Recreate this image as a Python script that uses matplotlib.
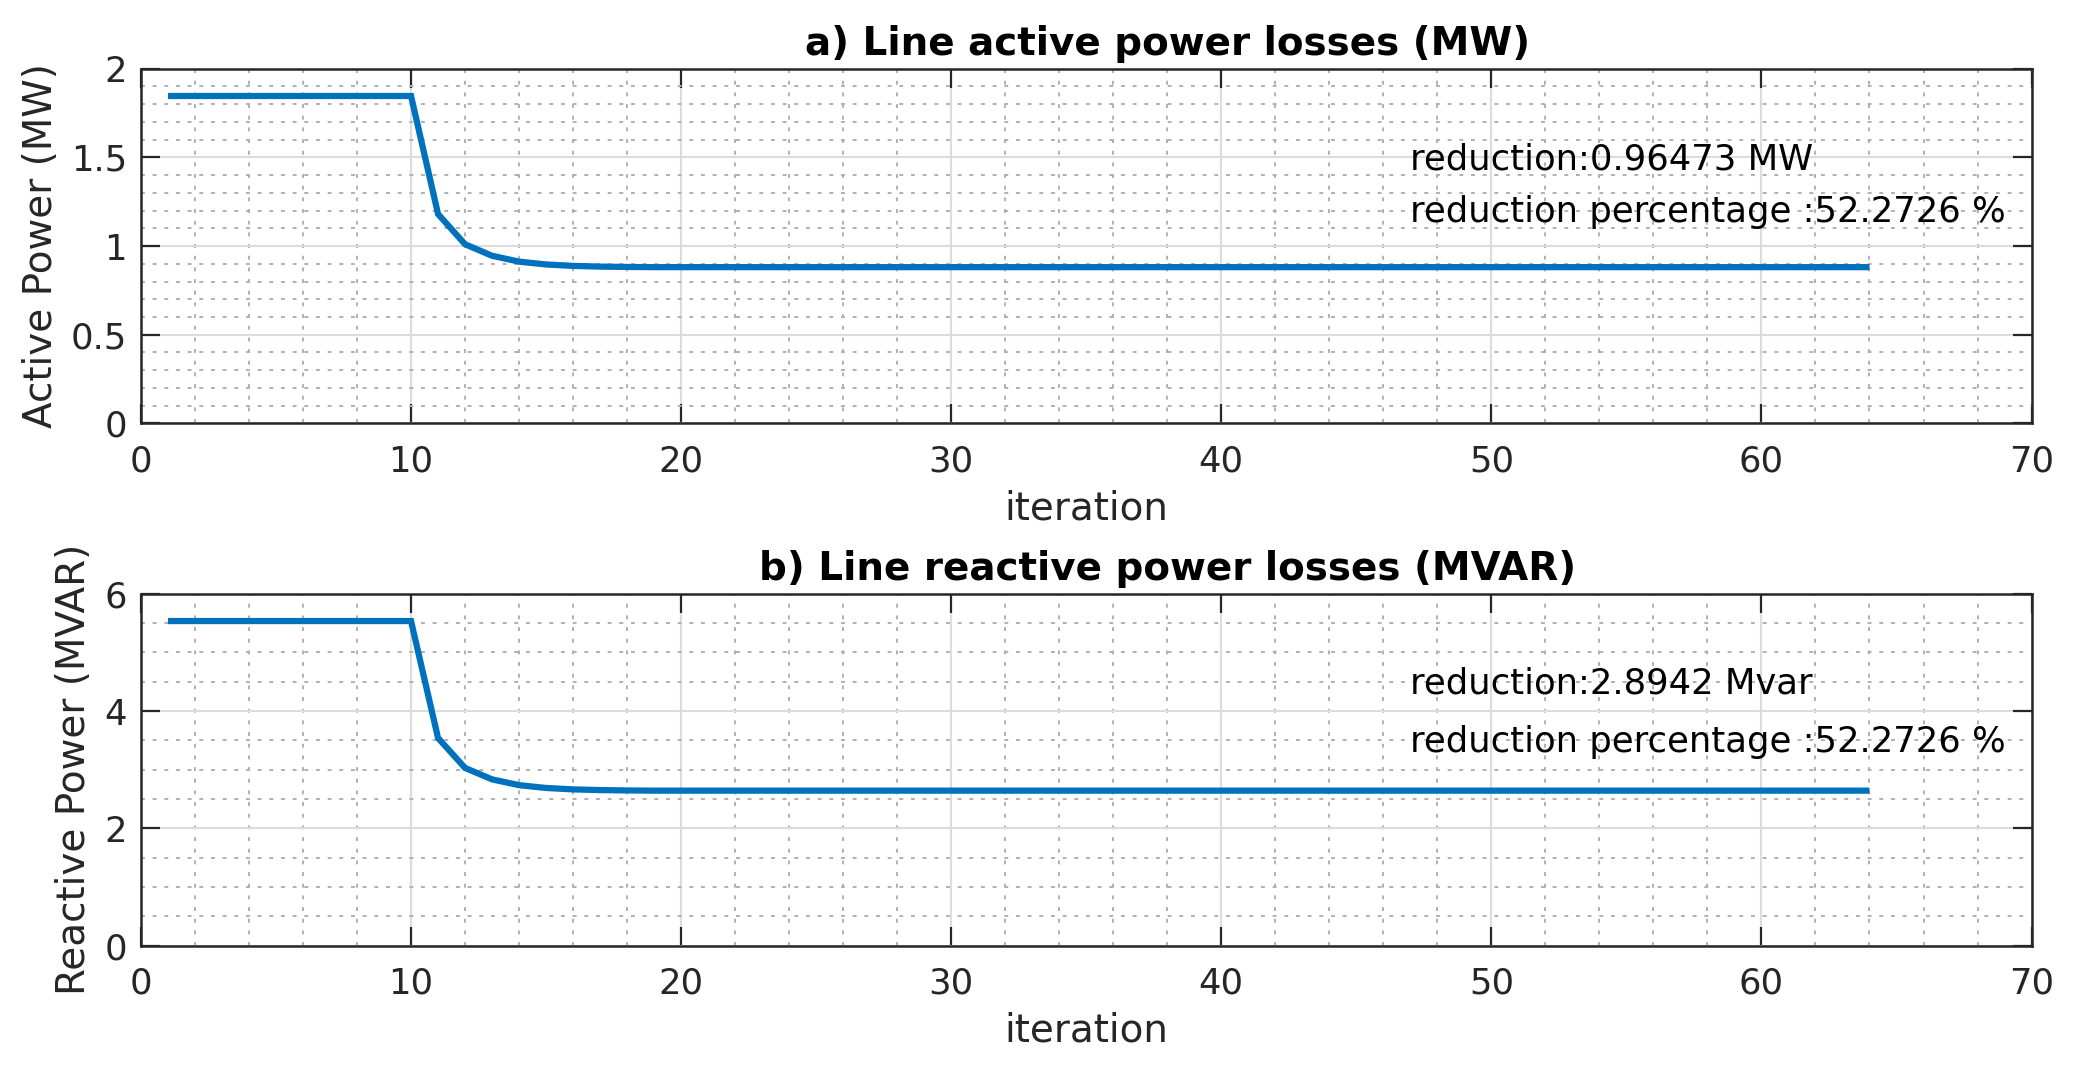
import matplotlib
matplotlib.use("Agg")
import matplotlib.pyplot as plt
from matplotlib.ticker import MultipleLocator, FormatStrFormatter
import numpy as np

plt.rcParams['font.family'] = ['DejaVu Sans']

iterations = list(range(1, 65))
active_loss = [1.8456]*10 + [1.180, 1.010, 0.945, 0.912, 0.896, 0.888, 0.884, 0.882] + [0.8809]*46
reactive_loss = [5.5367]*10 + [3.540, 3.030, 2.835, 2.736, 2.688, 2.664, 2.652, 2.646] + [2.6425]*46

titles = ["a) Line active power losses (MW)", "b) Line reactive power losses (MVAR)"]
ylabels = ["Active Power (MW)", "Reactive Power (MVAR)"]
notes = [["reduction:0.96473 MW", "reduction percentage :52.2726 %"],
         ["reduction:2.8942 Mvar", "reduction percentage :52.2726 %"]]
note_y = [[1.49, 1.19], [4.47, 3.47]]
ylims = [(0, 2), (0, 6)]
ymajor = [0.5, 2]
yminor = [0.1, 0.5]

fig = plt.figure(figsize=(20.73, 10.72), dpi=100)
axes_pos = [[0.068, 0.605, 0.912, 0.331], [0.068, 0.118, 0.912, 0.328]]
dark = '#262626'
series = [active_loss, reactive_loss]
for i in range(2):
    ax = fig.add_axes(axes_pos[i])
    ax.plot(iterations, series[i], color='#0072BD', lw=4.5, zorder=3,
            solid_joinstyle='miter', solid_capstyle='butt')
    ax.set_xlim(0, 70)
    ax.set_ylim(*ylims[i])
    ax.xaxis.set_major_locator(MultipleLocator(10))
    ax.xaxis.set_minor_locator(MultipleLocator(2))
    ax.yaxis.set_major_locator(MultipleLocator(ymajor[i]))
    ax.yaxis.set_minor_locator(MultipleLocator(yminor[i]))
    ax.yaxis.set_major_formatter(FormatStrFormatter('%g'))
    ax.grid(which='major', color='#dcdcdc', lw=1.5, ls='-', zorder=0)
    ax.grid(which='minor', color='#b0b0b0', lw=1.4, ls=(0, (2, 4)), zorder=0)
    ax.tick_params(which='major', direction='in', length=14, width=1.6, top=True, right=True,
                   labelsize=25.5, colors=dark, pad=10)
    ax.tick_params(axis='x', which='major', pad=15)
    ax.tick_params(which='minor', length=0, top=True, right=True)
    for sp in ax.spines.values():
        sp.set_color(dark)
        sp.set_linewidth(1.8)
    ax.set_title(titles[i], fontsize=28, fontweight='bold', pad=10, x=0.543)
    ax.set_ylabel(ylabels[i], fontsize=28, color=dark, labelpad=8)
    ax.set_xlabel("iteration", fontsize=28, color=dark, labelpad=8)
    for t, yv in zip(notes[i], note_y[i]):
        ax.text(47, yv, t, fontsize=25.5, color='black', va='center', ha='left', zorder=4)
    ax.set_axisbelow(True)

fig.savefig("out.png", dpi=100, facecolor='white')
